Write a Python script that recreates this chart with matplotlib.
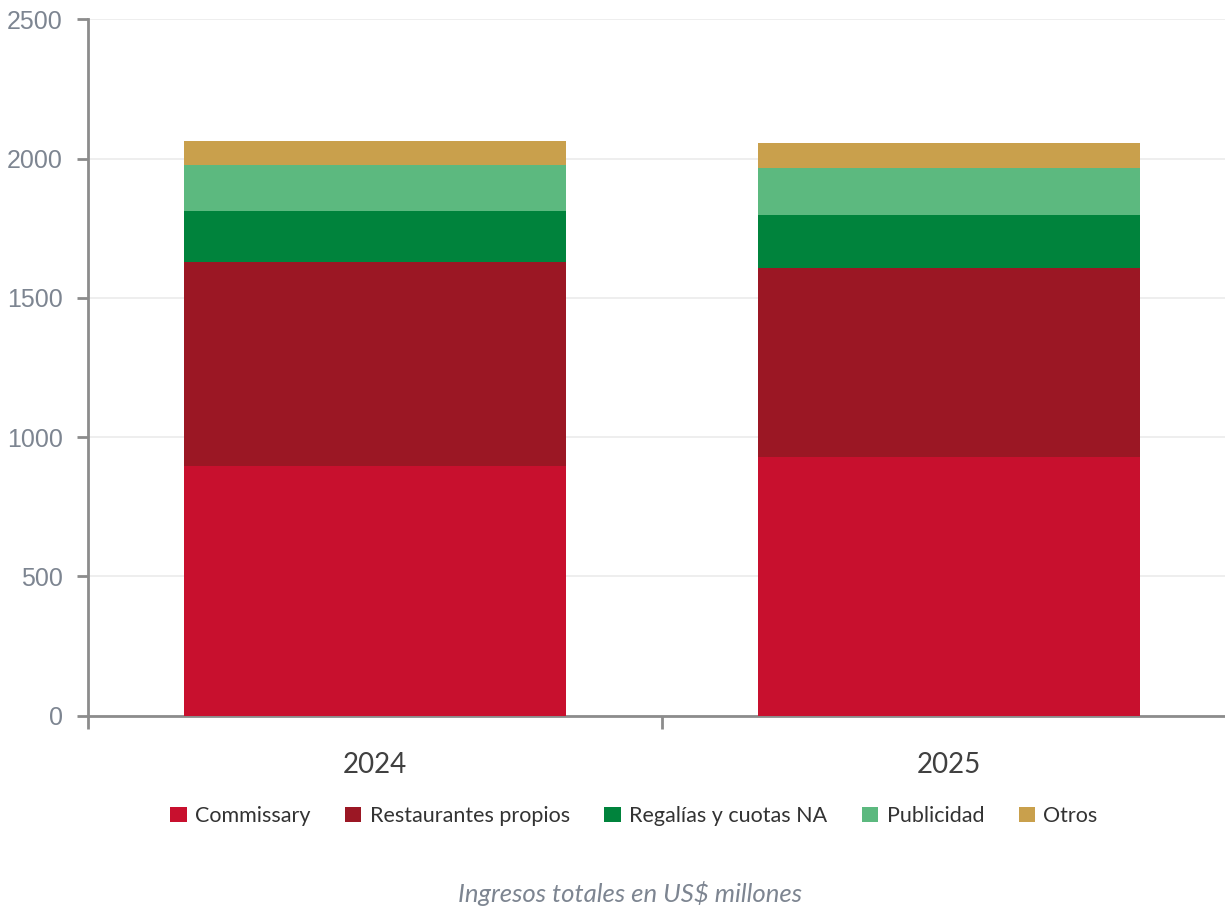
import matplotlib
matplotlib.use("Agg")
import matplotlib.pyplot as plt
import numpy as np
from matplotlib.patches import Patch

# Ingresos totales por segmento (US$ millones)
years = ["2024", "2025"]
segments = ["Commissary", "Restaurantes propios", "Regalías y cuotas NA", "Publicidad", "Otros"]
commissary = [897, 929]
restaurantes = [733, 679]
regalias = [183, 190]
publicidad = [164, 169]
otros = [86, 89]
colors = ["#C8102E", "#9B1724", "#00833C", "#5CB97F", "#C9A04C"]

yticks = [0, 500, 1000, 1500, 2000, 2500]

plt.rcParams["font.family"] = ["Lato", "DejaVu Sans"]

fig = plt.figure(figsize=(12.25, 9.09), dpi=100)
ax = fig.add_axes([88 / 1225, (909 - 715.7) / 909, 1148 / 1225, (715.7 - 19.3) / 909])

x = np.arange(len(years))
bottom = np.zeros(len(years))
for vals, col, name in zip([commissary, restaurantes, regalias, publicidad, otros], colors, segments):
    ax.bar(x, vals, width=0.667, bottom=bottom, color=col, label=name, zorder=3)
    bottom += np.array(vals)

ax.set_xlim(-0.5, 1.5)
ax.set_ylim(0, 2500)
ax.set_yticks(yticks)
ax.set_yticklabels([str(t) for t in yticks], family="Liberation Sans", fontsize=18, color="#7D8591")
ax.grid(axis="y", color="#EBEBEB", linewidth=1.2, zorder=0)

ax.set_xticks(x)
ax.set_xticklabels(years, fontsize=20, color="#404040")
ax.tick_params(axis="x", which="major", length=0, pad=26)
ax.set_xticks([-0.5, 0.5, 1.5], minor=True)
ax.tick_params(axis="x", which="minor", length=9, width=2, color="#8C8C8C")
ax.tick_params(axis="y", length=8, width=2, color="#8C8C8C", pad=10)

for side in ("top", "right"):
    ax.spines[side].set_visible(False)
for side in ("left", "bottom"):
    ax.spines[side].set_color("#8C8C8C")
    ax.spines[side].set_linewidth(2)

handles = [Patch(facecolor=c, edgecolor="none") for c in colors]
fig.legend(handles, segments, loc="center", bbox_to_anchor=(634 / 1225, 1 - 816 / 909),
           ncol=5, frameon=False, fontsize=15.5, handlelength=0.75, handleheight=0.75,
           handletextpad=0.4, columnspacing=1.6, labelcolor="#333333")

fig.text(630 / 1225, 1 - 894 / 909, "Ingresos totales en US$ millones", ha="center", va="center",
         fontsize=18.5, style="italic", color="#7D8591")

fig.savefig("out.png", dpi=100)
